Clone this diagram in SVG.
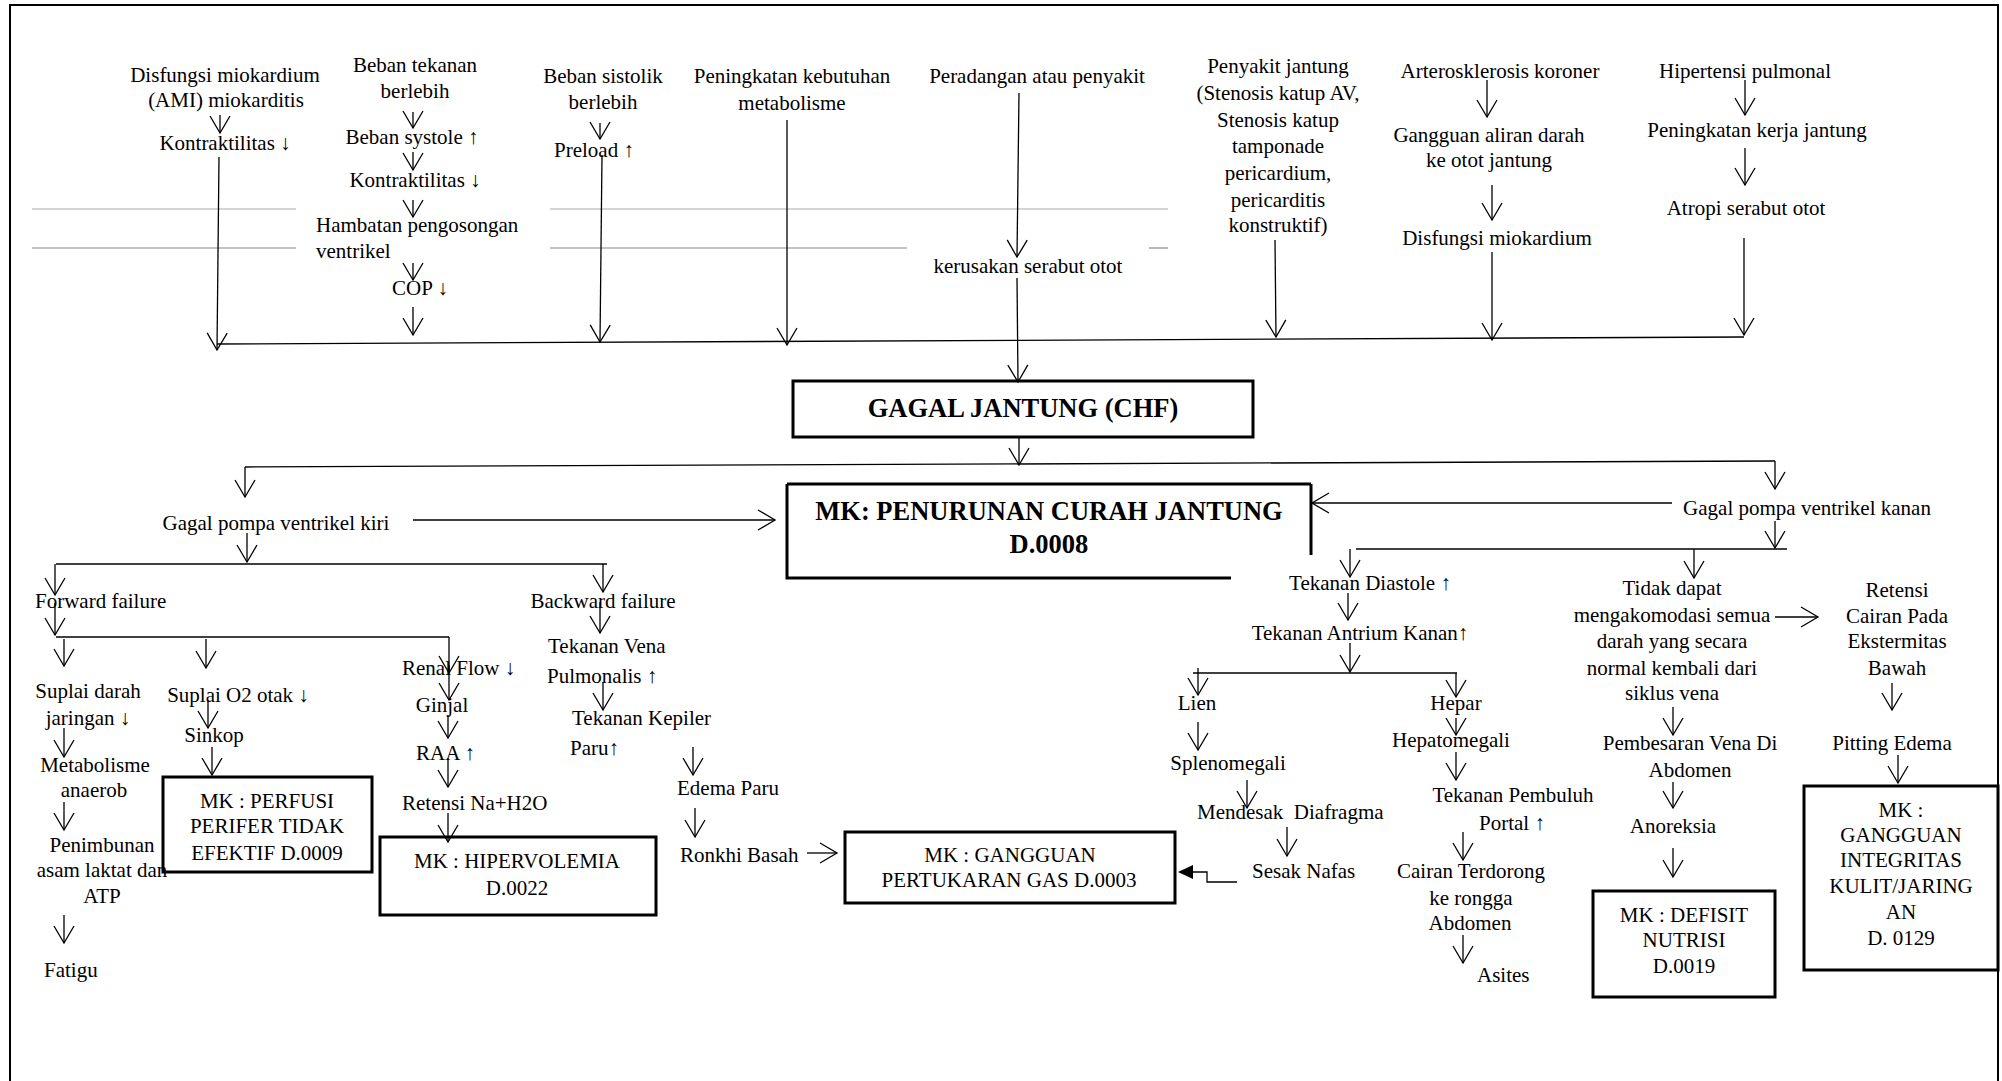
<svg xmlns="http://www.w3.org/2000/svg" width="2002" height="1081" viewBox="0 0 2002 1081">
<style>
text { font-family: "Liberation Serif", "Times New Roman", serif; font-size: 21px; fill: #000; }
.c { text-anchor: middle; }
.b { font-weight: bold; font-size: 26.5px; }
.ln { stroke: #000; stroke-width: 1.3; fill: none; }
.a { marker-end: url(#v); }
.box { fill: none; stroke: #000; stroke-width: 3; }
.g1 { stroke: #aaa; stroke-width: 1.2; }
.g2 { stroke: #888; stroke-width: 1.2; }
</style>
<defs>
<marker id="v" viewBox="-20 -12 22 24" refX="0" refY="0" markerWidth="22" markerHeight="24" markerUnits="userSpaceOnUse" orient="auto" overflow="visible">
<path d="M-17,-10 L0,0 L-17,10" fill="none" stroke="#000" stroke-width="1.3"/>
</marker>
</defs>
<rect x="0" y="0" width="2002" height="1081" fill="#fff"/>
<rect x="10" y="5" width="1988" height="1090" fill="none" stroke="#000" stroke-width="2"/>

<g id="guides">
<line class="g1" x1="32" y1="209" x2="296" y2="209"/>
<line class="g2" x1="32" y1="248" x2="296" y2="248"/>
<line class="g1" x1="550" y1="209" x2="1168" y2="209"/>
<line class="g2" x1="550" y1="248" x2="907" y2="248"/>
<line class="g2" x1="1149" y1="248" x2="1168" y2="248"/>
</g>

<g id="connectors">
<line class="ln a" x1="220" y1="115" x2="220" y2="133"/>
<line class="ln a" x1="219" y1="157" x2="217" y2="350"/>
<line class="ln a" x1="413" y1="112" x2="413" y2="128"/>
<line class="ln a" x1="413" y1="152" x2="413" y2="170"/>
<line class="ln a" x1="413" y1="200" x2="413" y2="217"/>
<line class="ln a" x1="413" y1="263" x2="413" y2="280"/>
<line class="ln a" x1="413" y1="307" x2="413" y2="335"/>
<line class="ln a" x1="600" y1="123" x2="600" y2="139"/>
<line class="ln a" x1="602" y1="155" x2="600" y2="342"/>
<line class="ln a" x1="787" y1="120" x2="787" y2="345"/>
<line class="ln a" x1="1019" y1="93" x2="1017" y2="257"/>
<line class="ln a" x1="1017" y1="278" x2="1018" y2="382"/>
<line class="ln a" x1="1275" y1="240" x2="1276" y2="337"/>
<line class="ln a" x1="1487" y1="80" x2="1487" y2="117"/>
<line class="ln a" x1="1492" y1="185" x2="1492" y2="220"/>
<line class="ln a" x1="1492" y1="252" x2="1492" y2="340"/>
<line class="ln a" x1="1745" y1="80" x2="1745" y2="115"/>
<line class="ln a" x1="1745" y1="148" x2="1745" y2="185"/>
<line class="ln a" x1="1744" y1="238" x2="1744" y2="335"/>
<line class="ln" x1="217" y1="344" x2="1744" y2="337"/>

<line class="ln a" x1="1019" y1="437" x2="1019" y2="465"/>
<line class="ln" x1="245" y1="467" x2="1775" y2="461"/>
<line class="ln a" x1="245" y1="467" x2="245" y2="497"/>
<line class="ln a" x1="1775" y1="461" x2="1775" y2="489"/>

<line class="ln a" x1="413" y1="520" x2="775" y2="520"/>
<line class="ln a" x1="247" y1="533" x2="247" y2="562"/>
<line class="ln" x1="56" y1="564" x2="607" y2="564"/>
<line class="ln a" x1="55" y1="564" x2="55" y2="595"/>
<line class="ln a" x1="603" y1="564" x2="603" y2="592"/>
<line class="ln a" x1="55" y1="603" x2="55" y2="635"/>
<line class="ln" x1="56" y1="637" x2="449" y2="637"/>
<line class="ln a" x1="64" y1="639" x2="64" y2="666"/>
<line class="ln a" x1="206" y1="639" x2="206" y2="668"/>
<line class="ln a" x1="449" y1="637" x2="449" y2="673"/>
<line class="ln a" x1="449" y1="665" x2="449" y2="700"/>
<line class="ln a" x1="208" y1="700" x2="208" y2="728"/>
<line class="ln a" x1="212" y1="747" x2="212" y2="775"/>
<line class="ln a" x1="64" y1="728" x2="64" y2="757"/>
<line class="ln a" x1="64" y1="802" x2="64" y2="830"/>
<line class="ln a" x1="64" y1="915" x2="64" y2="943"/>
<line class="ln a" x1="448" y1="715" x2="448" y2="738"/>
<line class="ln a" x1="448" y1="758" x2="448" y2="787"/>
<line class="ln a" x1="448" y1="813" x2="448" y2="842"/>

<line class="ln a" x1="600" y1="602" x2="600" y2="633"/>
<line class="ln a" x1="603" y1="682" x2="603" y2="710"/>
<line class="ln a" x1="693" y1="747" x2="693" y2="775"/>
<line class="ln a" x1="695" y1="808" x2="695" y2="837"/>
<line class="ln a" x1="807" y1="853" x2="837" y2="853"/>

<line class="ln a" x1="1672" y1="503" x2="1312" y2="503"/>
<line class="ln a" x1="1775" y1="521" x2="1775" y2="548"/>
<line class="ln" x1="1356" y1="549" x2="1787" y2="549"/>
<line class="ln a" x1="1350" y1="549" x2="1350" y2="577"/>
<line class="ln a" x1="1694" y1="549" x2="1694" y2="578"/>
<line class="ln a" x1="1348" y1="593" x2="1348" y2="620"/>
<line class="ln a" x1="1350" y1="643" x2="1350" y2="672"/>
<line class="ln" x1="1193" y1="673" x2="1457" y2="673"/>
<line class="ln a" x1="1198" y1="668" x2="1198" y2="695"/>
<line class="ln a" x1="1456" y1="673" x2="1456" y2="697"/>
<line class="ln a" x1="1198" y1="722" x2="1198" y2="750"/>
<line class="ln a" x1="1247" y1="780" x2="1247" y2="808"/>
<line class="ln a" x1="1287" y1="827" x2="1287" y2="856"/>
<polyline class="ln" points="1237,882 1207,882 1207,872 1192,872"/>
<polygon points="1178,872 1193,865 1193,879" fill="#000"/>
<line class="ln a" x1="1456" y1="718" x2="1456" y2="735"/>
<line class="ln a" x1="1456" y1="752" x2="1456" y2="780"/>
<line class="ln a" x1="1463" y1="832" x2="1463" y2="860"/>
<line class="ln a" x1="1463" y1="935" x2="1463" y2="963"/>

<line class="ln a" x1="1775" y1="617" x2="1818" y2="617"/>
<line class="ln a" x1="1892" y1="683" x2="1892" y2="710"/>
<line class="ln a" x1="1673" y1="707" x2="1673" y2="735"/>
<line class="ln a" x1="1673" y1="782" x2="1673" y2="808"/>
<line class="ln a" x1="1673" y1="848" x2="1673" y2="877"/>
<line class="ln a" x1="1898" y1="755" x2="1898" y2="783"/>
</g>

<g id="n-disfungsi"><text class="c" x="225" y="82">Disfungsi miokardium</text><text class="c" x="226" y="107">(AMI) miokarditis</text></g>
<g id="n-kontraktilitas1"><text class="c" x="225" y="150">Kontraktilitas ↓</text></g>
<g id="n-beban-tekanan"><text class="c" x="415" y="72">Beban tekanan</text><text class="c" x="415" y="98">berlebih</text></g>
<g id="n-beban-systole"><text class="c" x="412" y="144">Beban systole ↑</text></g>
<g id="n-kontraktilitas2"><text class="c" x="415" y="187">Kontraktilitas ↓</text></g>
<g id="n-hambatan"><text x="316" y="232">Hambatan pengosongan</text><text x="316" y="258">ventrikel</text></g>
<g id="n-cop"><text class="c" x="420" y="295">COP ↓</text></g>
<g id="n-beban-sistolik"><text class="c" x="603" y="83">Beban sistolik</text><text class="c" x="603" y="109">berlebih</text></g>
<g id="n-preload"><text class="c" x="594" y="157">Preload ↑</text></g>
<g id="n-metabolisme"><text class="c" x="792" y="83">Peningkatan kebutuhan</text><text class="c" x="792" y="110">metabolisme</text></g>
<g id="n-peradangan"><text class="c" x="1037" y="83">Peradangan atau penyakit</text></g>
<g id="n-kerusakan"><text class="c" x="1028" y="273">kerusakan serabut otot</text></g>
<g id="n-penyakit-jantung"><text class="c" x="1278" y="73">Penyakit jantung</text><text class="c" x="1278" y="100">(Stenosis katup AV,</text><text class="c" x="1278" y="127">Stenosis katup</text><text class="c" x="1278" y="153">tamponade</text><text class="c" x="1278" y="180">pericardium,</text><text class="c" x="1278" y="207">pericarditis</text><text class="c" x="1278" y="232">konstruktif)</text></g>
<g id="n-arterosklerosis"><text class="c" x="1500" y="78">Arterosklerosis koroner</text></g>
<g id="n-gangguan-aliran"><text class="c" x="1489" y="142">Gangguan aliran darah</text><text class="c" x="1489" y="167">ke otot jantung</text></g>
<g id="n-disfungsi2"><text class="c" x="1497" y="245">Disfungsi miokardium</text></g>
<g id="n-hipertensi"><text class="c" x="1745" y="78">Hipertensi pulmonal</text></g>
<g id="n-kerja-jantung"><text class="c" x="1757" y="137">Peningkatan kerja jantung</text></g>
<g id="n-atropi"><text class="c" x="1746" y="215">Atropi serabut otot</text></g>

<g id="n-chf"><rect class="box" x="793" y="381" width="460" height="56"/><text class="c b" x="1023" y="417">GAGAL JANTUNG (CHF)</text></g>
<g id="n-mk-curah"><path class="box" d="M787,484 H1311 M787,484 V578 H1231 M1311,484 V555"/><text class="c b" x="1049" y="520">MK: PENURUNAN CURAH JANTUNG</text><text class="c b" x="1049" y="553">D.0008</text></g>

<g id="n-kiri"><text class="c" x="276" y="530">Gagal pompa ventrikel kiri</text></g>
<g id="n-forward"><text x="35" y="608">Forward failure</text></g>
<g id="n-backward"><text class="c" x="603" y="608">Backward failure</text></g>
<g id="n-suplai-darah"><text class="c" x="88" y="698">Suplai darah</text><text class="c" x="88" y="725">jaringan ↓</text></g>
<g id="n-metab-anaerob"><text class="c" x="95" y="772">Metabolisme</text><text class="c" x="94" y="797">anaerob</text></g>
<g id="n-penimbunan"><text class="c" x="102" y="852">Penimbunan</text><text class="c" x="102" y="877">asam laktat dan</text><text class="c" x="102" y="903">ATP</text></g>
<g id="n-fatigu"><text x="44" y="977">Fatigu</text></g>
<g id="n-suplai-o2"><text class="c" x="238" y="702">Suplai O2 otak ↓</text></g>
<g id="n-sinkop"><text class="c" x="214" y="742">Sinkop</text></g>
<g id="n-mk-perfusi"><rect class="box" x="163" y="777" width="209" height="95"/><text class="c" x="267" y="808">MK : PERFUSI</text><text class="c" x="267" y="833">PERIFER TIDAK</text><text class="c" x="267" y="860">EFEKTIF D.0009</text></g>
<g id="n-renal"><text x="402" y="675">Renal Flow ↓</text></g>
<g id="n-ginjal"><text class="c" x="442" y="712">Ginjal</text></g>
<g id="n-raa"><text x="416" y="760">RAA ↑</text></g>
<g id="n-retensi-na"><text x="402" y="810">Retensi Na+H2O</text></g>
<g id="n-mk-hipervolemia"><rect class="box" x="380" y="837" width="276" height="78"/><text class="c" x="517" y="868">MK : HIPERVOLEMIA</text><text class="c" x="517" y="895">D.0022</text></g>
<g id="n-vena-pulmonalis"><text x="548" y="653">Tekanan Vena</text><text x="547" y="683">Pulmonalis ↑</text></g>
<g id="n-kepiler"><text x="572" y="725">Tekanan Kepiler</text><text x="570" y="755">Paru↑</text></g>
<g id="n-edema-paru"><text x="677" y="795">Edema Paru</text></g>
<g id="n-ronkhi"><text x="680" y="862">Ronkhi Basah</text></g>
<g id="n-mk-gas"><rect class="box" x="845" y="832" width="330" height="71"/><text class="c" x="1010" y="862">MK : GANGGUAN</text><text class="c" x="1009" y="887">PERTUKARAN GAS D.0003</text></g>

<g id="n-kanan"><text class="c" x="1807" y="515">Gagal pompa ventrikel kanan</text></g>
<g id="n-diastole"><text class="c" x="1370" y="590">Tekanan Diastole ↑</text></g>
<g id="n-atrium"><text class="c" x="1360" y="640">Tekanan Antrium Kanan↑</text></g>
<g id="n-lien"><text class="c" x="1197" y="710">Lien</text></g>
<g id="n-splenomegali"><text class="c" x="1228" y="770">Splenomegali</text></g>
<g id="n-diafragma"><text x="1197" y="819" xml:space="preserve">Mendesak  Diafragma</text></g>
<g id="n-sesak"><text x="1252" y="878">Sesak Nafas</text></g>
<g id="n-hepar"><text class="c" x="1456" y="710">Hepar</text></g>
<g id="n-hepatomegali"><text class="c" x="1451" y="747">Hepatomegali</text></g>
<g id="n-portal"><text class="c" x="1513" y="802">Tekanan Pembuluh</text><text class="c" x="1512" y="830">Portal ↑</text></g>
<g id="n-cairan"><text class="c" x="1471" y="878">Cairan Terdorong</text><text class="c" x="1471" y="905">ke rongga</text><text class="c" x="1470" y="930">Abdomen</text></g>
<g id="n-asites"><text x="1477" y="982">Asites</text></g>
<g id="n-tidak-dapat"><text class="c" x="1672" y="595">Tidak dapat</text><text class="c" x="1672" y="622">mengakomodasi semua</text><text class="c" x="1672" y="648">darah yang secara</text><text class="c" x="1672" y="675">normal kembali dari</text><text class="c" x="1672" y="700">siklus vena</text></g>
<g id="n-retensi-cairan"><text class="c" x="1897" y="597">Retensi</text><text class="c" x="1897" y="623">Cairan Pada</text><text class="c" x="1897" y="648">Ekstermitas</text><text class="c" x="1897" y="675">Bawah</text></g>
<g id="n-pembesaran"><text class="c" x="1690" y="750">Pembesaran Vena Di</text><text class="c" x="1690" y="777">Abdomen</text></g>
<g id="n-anoreksia"><text class="c" x="1673" y="833">Anoreksia</text></g>
<g id="n-mk-nutrisi"><rect class="box" x="1593" y="891" width="182" height="106"/><text class="c" x="1684" y="922">MK : DEFISIT</text><text class="c" x="1684" y="947">NUTRISI</text><text class="c" x="1684" y="973">D.0019</text></g>
<g id="n-pitting"><text class="c" x="1892" y="750">Pitting Edema</text></g>
<g id="n-mk-integritas"><rect class="box" x="1804" y="786" width="194" height="184"/><text class="c" x="1901" y="817">MK :</text><text class="c" x="1901" y="842">GANGGUAN</text><text class="c" x="1901" y="867">INTEGRITAS</text><text class="c" x="1901" y="893">KULIT/JARING</text><text class="c" x="1901" y="919">AN</text><text class="c" x="1901" y="945">D. 0129</text></g>
</svg>
